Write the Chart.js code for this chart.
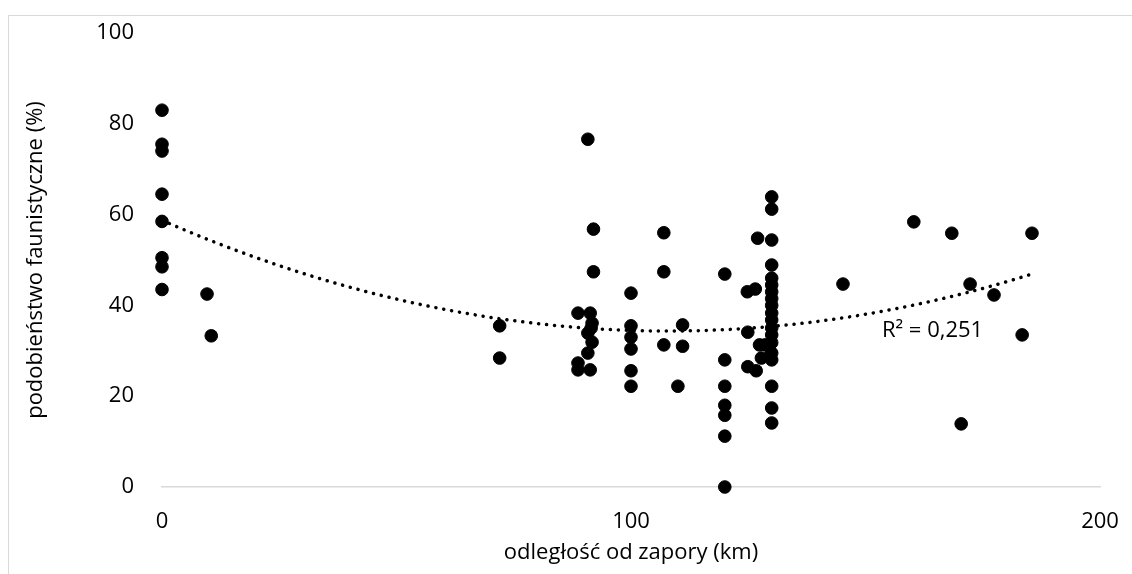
<!DOCTYPE html>
<html>
<head>
<meta charset="utf-8">
<script src="https://cdn.jsdelivr.net/npm/chart.js@4"></script>
<style>
    html, body { margin: 0; padding: 0; background: #fff; overflow: hidden; }
    #wrap { position: relative; width: 1132px; height: 574px; }
    #frame { position: absolute; left: 8px; top: 15px; width: 1200px; height: 700px;
             border-left: 1px solid #d9d9d9; border-top: 1px solid #d9d9d9; }
    canvas { position: absolute; left: 0; top: 0; }
</style>
</head>
<body>
<div id="wrap">
    <div id="frame"></div>
    <canvas id="chart" width="1132" height="574"></canvas>
</div>
<script>
// distance from the dam (km)
const distances = [
    0, 0, 0, 0, 0, 0, 0, 0,
    9.6, 10.5,
    72, 72,
    88.7, 91.3, 91.7, 91.5, 90.8, 91.7, 90.8, 88.7, 88.7, 91.3, 90.8, 92, 92,
    100, 100, 100, 100, 100, 100,
    107, 107, 107, 110, 111, 111,
    120, 120, 120, 120, 120, 120, 120,
    124.8, 126.5, 124.9, 127.4, 128.6, 127.8, 124.9, 126.7, 127,
    130, 130, 130, 130, 130, 130, 130, 130, 130, 130, 130, 130, 130, 130, 130, 130, 130, 130, 130,
    145.2, 160.3, 168.4, 172.3, 170.4, 177.4, 183.4, 185.5
];
// faunistic similarity (%)
const similarity = [
    83, 75.5, 74, 64.5, 58.5, 50.5, 48.5, 43.5,
    42.5, 33.3,
    35.5, 28.4,
    38.3, 38.3, 36.1, 35, 33.9, 31.9, 29.5, 27.3, 25.8, 25.8, 76.6, 56.8, 47.4,
    42.7, 35.5, 33, 30.4, 25.6, 22.2,
    56, 47.4, 31.3, 22.2, 35.7, 31,
    46.9, 28, 22.2, 18, 15.8, 11.2, 0,
    43, 43.6, 34.1, 31.3, 31.3, 28.4, 26.5, 25.6, 54.8,
    63.9, 61.2, 54.4, 48.9, 46, 44.5, 43, 41.5, 40, 38.3, 36.8, 35, 33.5, 31.8, 29.5, 28, 22.2, 17.4, 14.1,
    44.7, 58.4, 55.9, 44.7, 13.9, 42.3, 33.5, 55.9
];
const xTicks = [0, 100, 200];
const yTicks = [0, 20, 40, 60, 80, 100];
const r2Label = 'R² = 0,251';

// 2nd order polynomial trendline (least squares), like the Excel one
function polyFit2(xs, ys) {
    let s = [0, 0, 0, 0, 0], t = [0, 0, 0];
    for (let i = 0; i < xs.length; i++) {
        const x = xs[i], y = ys[i];
        for (let k = 0; k < 5; k++) s[k] += Math.pow(x, k);
        for (let k = 0; k < 3; k++) t[k] += y * Math.pow(x, k);
    }
    const m = [[s[0], s[1], s[2], t[0]], [s[1], s[2], s[3], t[1]], [s[2], s[3], s[4], t[2]]];
    for (let c = 0; c < 3; c++) {
        for (let r = c + 1; r < 3; r++) {
            const f = m[r][c] / m[c][c];
            for (let k = c; k < 4; k++) m[r][k] -= f * m[c][k];
        }
    }
    const out = [0, 0, 0];
    for (let r = 2; r >= 0; r--) {
        let v = m[r][3];
        for (let k = r + 1; k < 3; k++) v -= m[r][k] * out[k];
        out[r] = v / m[r][r];
    }
    return out;
}

const coef = polyFit2(distances, similarity);
const xMax = Math.max(...distances);
const trend = [];
for (let i = 0; i <= 80; i++) {
    const x = xMax * i / 80;
    trend.push({ x: x, y: coef[0] + coef[1] * x + coef[2] * x * x });
}

const font = { family: "'Open Sans', sans-serif", size: 22 };

const r2Plugin = {
    id: 'r2',
    afterDatasetsDraw(chart) {
        const { ctx, scales } = chart;
        ctx.save();
        ctx.font = "22px 'Open Sans', sans-serif";
        ctx.fillStyle = '#000';
        ctx.textAlign = 'left';
        ctx.textBaseline = 'middle';
        ctx.fillText(r2Label, scales.x.getPixelForValue(153.5), scales.y.getPixelForValue(34.4));
        ctx.restore();
    }
};

new Chart(document.getElementById('chart').getContext('2d'), {
    type: 'scatter',
    data: {
        datasets: [{
            data: distances.map((x, i) => ({ x: x, y: similarity[i] })),
            backgroundColor: '#000',
            borderColor: '#000',
            pointRadius: 6.3,
            pointHoverRadius: 6.3,
            clip: false
        }, {
            type: 'line',
            data: trend,
            borderColor: '#000',
            borderWidth: 3.5,
            borderDash: [0.1, 7.9],
            borderCapStyle: 'round',
            pointRadius: 0,
            fill: false,
            tension: 0,
            clip: false
        }]
    },
    options: {
        responsive: false,
        animation: false,
        events: [],
        layout: { padding: { top: 33, right: 32, bottom: 0, left: 0 } },
        plugins: { legend: { display: false }, tooltip: { enabled: false } },
        scales: {
            x: {
                type: 'linear',
                min: 0, max: 200,
                afterFit: (scale) => {
                    scale.height = 87;
                    scale.paddingLeft = 0;
                    scale.paddingRight = 0;
                },
                afterBuildTicks: (scale) => { scale.ticks = xTicks.map(v => ({ value: v })); },
                grid: { display: false, drawTicks: false },
                border: { display: true, color: '#d9d9d9', width: 1.5 },
                ticks: { color: '#000', font: font, padding: 22, maxRotation: 0 },
                title: { display: true, text: 'odległość od zapory (km)', color: '#000', font: font, padding: { top: 0, bottom: 8 } }
            },
            y: {
                min: 0, max: 100,
                afterFit: (scale) => {
                    scale.width = 162;
                    scale.paddingTop = 0;
                    scale.paddingBottom = 0;
                },
                afterBuildTicks: (scale) => { scale.ticks = yTicks.map(v => ({ value: v })); },
                grid: { display: false, drawTicks: false },
                border: { display: false },
                ticks: { color: '#000', font: font, padding: 28 },
                title: { display: true, text: 'podobieństwo faunistyczne (%)', color: '#000', font: font, padding: { top: 23, bottom: 0 } }
            }
        }
    },
    plugins: [r2Plugin]
});
</script>
</body>
</html>
